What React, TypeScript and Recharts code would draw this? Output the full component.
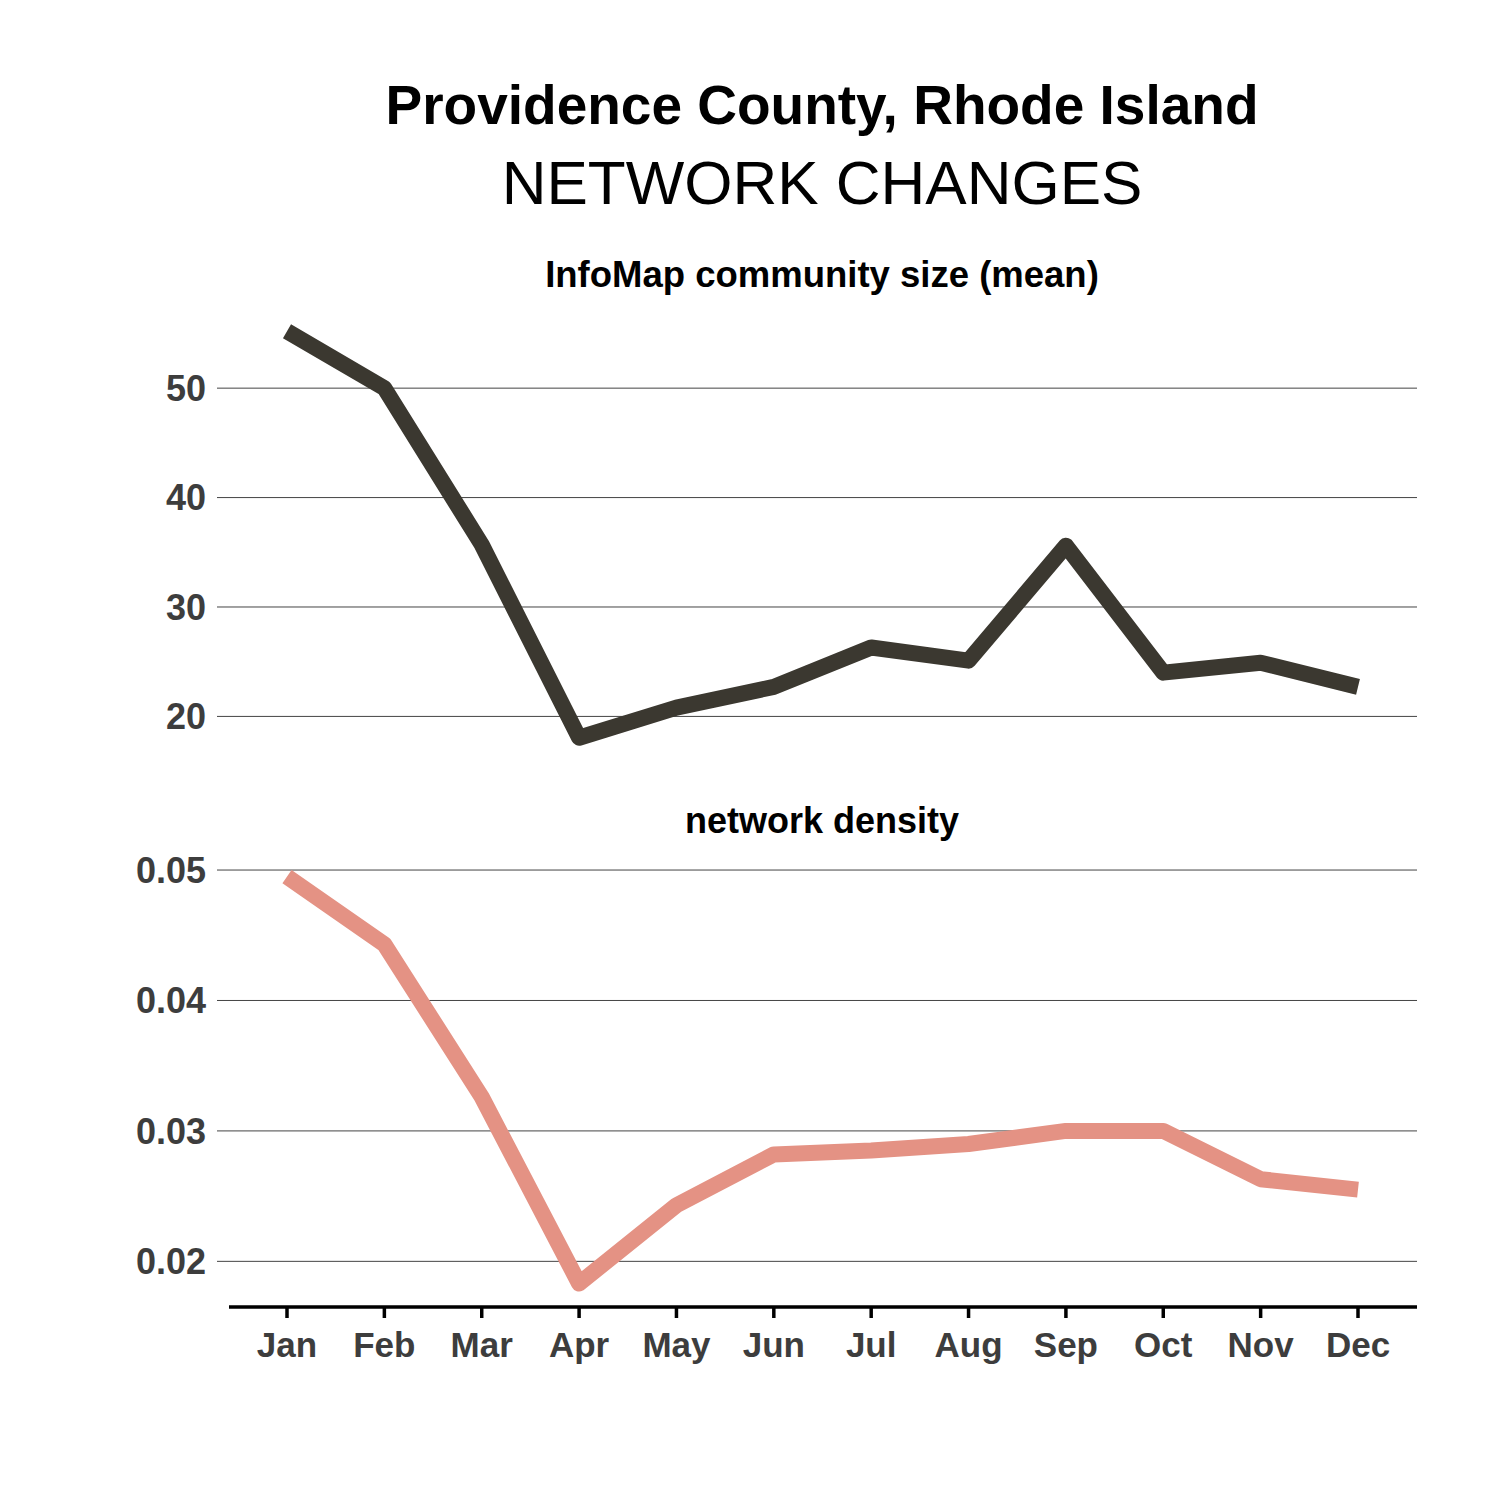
import React from 'react';
import { LineChart, Line, XAxis, YAxis, ReferenceLine } from 'recharts';

const months = ['Jan', 'Feb', 'Mar', 'Apr', 'May', 'Jun', 'Jul', 'Aug', 'Sep', 'Oct', 'Nov', 'Dec'];
const communitySize = [55.2, 50.0, 35.7, 18.05, 20.8, 22.7, 26.3, 25.1, 35.6, 24.0, 24.9, 22.7];
const density = [0.0495, 0.0443, 0.0326, 0.0183, 0.0243, 0.0282, 0.0285, 0.029, 0.03, 0.03, 0.0263, 0.0255];
const sizeTicks = [20, 30, 40, 50];
const densityTicks = [0.02, 0.03, 0.04, 0.05];

const FONT = '"Liberation Sans", Arial, Helvetica, sans-serif';
const TICK_COLOR = '#3d3d3d';
const GRID = '#444';

const data = months.map((m, i) => ({ month: m, size: communitySize[i], density: density[i] }));

const yTick = { fill: TICK_COLOR, fontSize: 36, fontWeight: 700, fontFamily: FONT };
const xPadding = { left: 70, right: 59 };

export default function App() {
  return (
    <div style={{ position: 'absolute', left: 0, top: 0, width: 1500, height: 1500, background: '#fff' }}>
      <svg width={1500} height={1500} style={{ position: 'absolute', left: 0, top: 0 }}>
        <text x={822} y={124} textAnchor="middle" fontFamily={FONT} fontWeight={700} fontSize={55} fill="#000">
          Providence County, Rhode Island
        </text>
        <text x={822} y={204} textAnchor="middle" fontFamily={FONT} fontSize={62} fill="#000">
          NETWORK CHANGES
        </text>
        <text x={822} y={287} textAnchor="middle" fontFamily={FONT} fontWeight={700} fontSize={36.5} fill="#000">
          InfoMap community size (mean)
        </text>
        <text x={822} y={833} textAnchor="middle" fontFamily={FONT} fontWeight={700} fontSize={36} fill="#000">
          network density
        </text>
      </svg>

      <div style={{ position: 'absolute', left: 0, top: 0 }}>
        <LineChart width={1500} height={770} data={data} margin={{ top: 311, right: 83, bottom: 12, left: 0 }}>
          <XAxis dataKey="month" hide padding={xPadding} />
          <YAxis
            width={217}
            domain={[16.2, 57.05]}
            ticks={sizeTicks}
            axisLine={false}
            tickLine={false}
            tickSize={0}
            tickMargin={11}
            tick={yTick}
          />
          {sizeTicks.map((t) => (
            <ReferenceLine key={t} y={t} stroke={GRID} strokeWidth={1} />
          ))}
          <Line
            dataKey="size"
            stroke="#3b3830"
            strokeWidth={16}
            strokeLinejoin="round"
            strokeLinecap="butt"
            dot={false}
            activeDot={false}
            isAnimationActive={false}
          />
        </LineChart>
      </div>

      <div style={{ position: 'absolute', left: 0, top: 800 }}>
        <LineChart width={1500} height={600} data={data} margin={{ top: 57, right: 83, bottom: 33, left: 0 }}>
          <XAxis
            dataKey="month"
            height={60}
            padding={xPadding}
            axisLine={{ stroke: '#000', strokeWidth: 3.5, strokeDasharray: '0 12 5000' }}
            tickLine={{ stroke: '#000', strokeWidth: 3.5 }}
            tickSize={11}
            tickMargin={14}
            tick={{ fill: TICK_COLOR, fontSize: 35, fontWeight: 700, fontFamily: FONT }}
          />
          <YAxis
            width={217}
            domain={[0.0165, 0.051]}
            ticks={densityTicks}
            axisLine={false}
            tickLine={false}
            tickSize={0}
            tickMargin={11}
            tick={yTick}
            tickFormatter={(v: number) => v.toFixed(2)}
          />
          {densityTicks.map((t) => (
            <ReferenceLine key={t} y={t} stroke={GRID} strokeWidth={1} />
          ))}
          <Line
            dataKey="density"
            stroke="#e49284"
            strokeWidth={16}
            strokeLinejoin="round"
            strokeLinecap="butt"
            dot={false}
            activeDot={false}
            isAnimationActive={false}
          />
        </LineChart>
      </div>
    </div>
  );
}
